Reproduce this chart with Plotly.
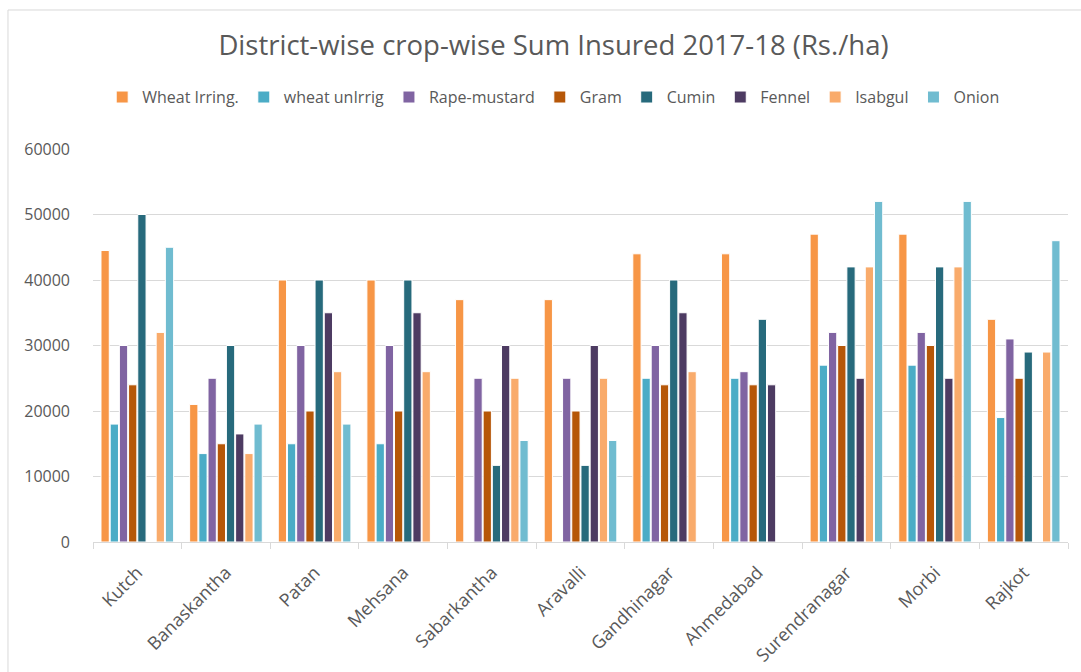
import plotly.graph_objects as go

districts = ["Kutch", "Banaskantha", "Patan", "Mehsana", "Sabarkantha", "Aravalli",
             "Gandhinagar", "Ahmedabad", "Surendranagar", "Morbi", "Rajkot"]

wheat_irr   = [44500, 21000, 40000, 40000, 37000, 37000, 44000, 44000, 47000, 47000, 34000]
wheat_unirr = [18000, 13500, 15000, 15000, None, None, 25000, 25000, 27000, 27000, 19000]
rape        = [30000, 25000, 30000, 30000, 25000, 25000, 30000, 26000, 32000, 32000, 31000]
gram        = [24000, 15000, 20000, 20000, 20000, 20000, 24000, 24000, 30000, 30000, 25000]
cumin       = [50000, 30000, 40000, 40000, 11700, 11700, 40000, 34000, 42000, 42000, 29000]
fennel      = [None, 16500, 35000, 35000, 30000, 30000, 35000, 24000, 25000, 25000, None]
isabgul     = [32000, 13500, 26000, 26000, 25000, 25000, 26000, None, 42000, 42000, 29000]
onion       = [45000, 18000, 18000, None, 15500, 15500, None, None, 52000, 52000, 46000]

series = [
    ("Wheat Irring.", wheat_irr, "#F79646"),
    ("wheat unIrrig", wheat_unirr, "#4BACC6"),
    ("Rape-mustard", rape, "#8064A2"),
    ("Gram", gram, "#B65708"),
    ("Cumin", cumin, "#276A7C"),
    ("Fennel", fennel, "#4D3B62"),
    ("Isabgul", isabgul, "#F9AB6B"),
    ("Onion", onion, "#70BCD0"),
]

fig = go.Figure()
for name, vals, col in series:
    fig.add_trace(go.Bar(name=name, x=districts, y=vals,
                         marker=dict(color=col, line=dict(color="white", width=1))))

font_family = "'Open Sans', Lato, sans-serif"
fig.update_layout(
    width=1081, height=672,
    margin=dict(l=93, r=13, t=149, b=130, autoexpand=False),
    paper_bgcolor="white", plot_bgcolor="white",
    barmode="group", bargap=0.17, bargroupgap=0.1,
    font=dict(family=font_family, color="#595959"),
    title=dict(text="District-wise crop-wise Sum Insured 2017-18 (Rs./ha)",
               x=0.512, xanchor="center", y=0.933, yanchor="middle",
               font=dict(size=27.5, color="#595959", family=font_family)),
    legend=dict(orientation="h", x=0.472, xanchor="center",
                y=1.132, yanchor="middle", font=dict(size=16, color="#595959"),
                itemwidth=30, traceorder="normal"),
    showlegend=True,
)
fig.update_yaxes(range=[0, 60000], dtick=10000, showgrid=True, gridcolor="#D9D9D9",
                 gridwidth=1, zeroline=False, showline=False,
                 tickfont=dict(size=16, color="#595959"), ticks="",
                 tickformat="d", ticklabelstandoff=22)
fig.update_xaxes(showline=True, linecolor="#D9D9D9", linewidth=1,
                 ticks="outside", tickson="boundaries", ticklen=6, tickcolor="#D9D9D9",
                 tickangle=-45, tickfont=dict(size=18, color="#595959"),
                 ticklabelstandoff=12)

fig.add_shape(type="rect", xref="paper", yref="paper",
              x0=-0.0872, x1=1.05, y0=-0.5, y1=1.3537,
              line=dict(color="#D9D9D9", width=1), fillcolor="rgba(0,0,0,0)", layer="below")

fig.write_html("out.html")
